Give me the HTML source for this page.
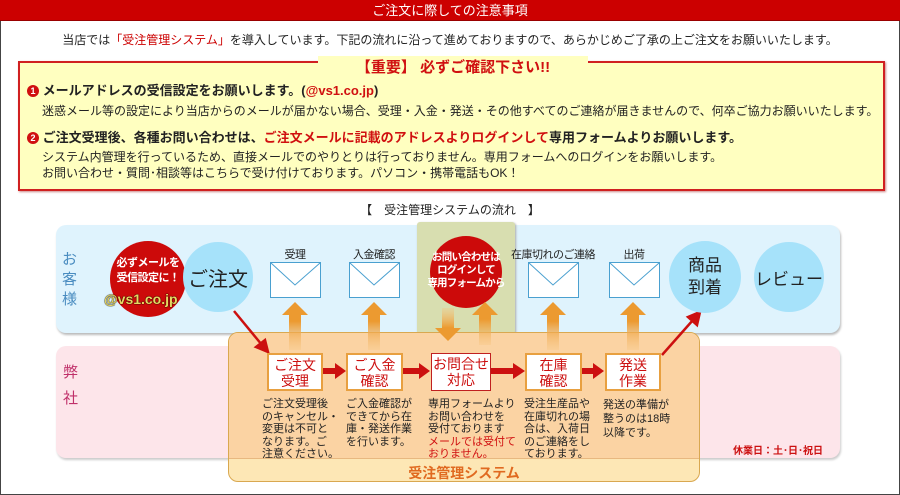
<!DOCTYPE html>
<html><head><meta charset="utf-8"><style>
*{margin:0;padding:0;box-sizing:border-box}
body{width:900px;height:495px;overflow:hidden;background:#fff;font-family:"Liberation Sans","Noto Sans CJK JP",sans-serif;position:relative;color:#222}
.a{position:absolute}
.frame{left:0;top:0;width:900px;height:495px;border:1px solid #444}
.title{left:0;top:0;width:900px;height:21px;background:#cc0000;color:#fff;font-size:13px;text-align:center;line-height:21px;border-bottom:1px solid #900}
.c{text-align:center}
.lbl{font-size:11px;width:90px;text-align:center;white-space:nowrap;letter-spacing:-0.5px}
.circ{border-radius:50%;display:flex;align-items:center;justify-content:center;text-align:center;white-space:nowrap}
.pb{height:38px;background:#fff;border:2px solid #e8a040;color:#cc1010;font-size:14px;line-height:16px;text-align:center;padding-top:2px}
.desc{font-size:11px;line-height:12.6px;color:#222;white-space:nowrap}
</style></head><body>
<div class="a frame"></div>
<div class="a title">ご注文に際しての注意事項</div>
<div class="a c" style="left:0;top:31px;width:900px;font-size:12px">当店では<span style="color:#c00">「受注管理システム」</span>を導入しています。下記の流れに沿って進めておりますので、あらかじめご了承の上ご注文をお願いいたします。</div>

<div class="a" style="left:18px;top:61px;width:867px;height:130px;background:#ffffc0;border:2px solid #d02020;box-shadow:1px 1px 2px #c88"></div>
<div class="a c" style="left:318px;top:56px;width:270px;background:#ffffc0;color:#d01010;font-size:15px;font-weight:bold">【重要】 必ずご確認下さい!!</div>
<div class="a" style="left:27px;top:80px;font-size:13px;font-weight:bold"><span style="display:inline-block;width:12px;height:12px;border-radius:50%;background:#d01010;color:#fff;font-size:9px;text-align:center;line-height:12px;vertical-align:1px">1</span> メールアドレスの受信設定をお願いします。(<span style="color:#d01010">@vs1.co.jp</span>)</div>
<div class="a" style="left:42px;top:102px;font-size:12px">迷惑メール等の設定により当店からのメールが届かない場合、受理・入金・発送・その他すべてのご連絡が届きませんので、何卒ご協力お願いいたします。</div>
<div class="a" style="left:27px;top:127px;font-size:13px;font-weight:bold"><span style="display:inline-block;width:12px;height:12px;border-radius:50%;background:#d01010;color:#fff;font-size:9px;text-align:center;line-height:12px;vertical-align:1px">2</span> ご注文受理後、各種お問い合わせは、<span style="color:#d01010">ご注文メールに記載のアドレスよりログインして</span>専用フォームよりお願いします。</div>
<div class="a" style="left:42px;top:149px;font-size:12px;line-height:16px">システム内管理を行っているため、直接メールでのやりとりは行っておりません。専用フォームへのログインをお願いします。<br>お問い合わせ・質問･相談等はこちらで受け付けております。パソコン・携帯電話もOK！</div>

<div class="a c" style="left:0;top:201px;width:900px;font-size:12px">【　受注管理システムの流れ　】</div>

<div class="a" style="left:56px;top:225px;width:784px;height:108px;background:#dff3fd;border-radius:10px;box-shadow:1px 2px 2px #bbb"></div>
<div class="a" style="left:56px;top:346px;width:784px;height:112px;background:#fde5ea;border-radius:10px;box-shadow:1px 2px 2px #ccc"></div>
<div class="a" style="left:62px;top:250px;width:18px;font-size:15px;line-height:20px;color:#4a8cc0">お客様</div>
<div class="a" style="left:63px;top:360px;width:18px;font-size:15px;line-height:26px;color:#c0306a">弊社</div>
<div class="a" style="left:417px;top:222px;width:98px;height:112px;background:#d8deb0;border-radius:3px;box-shadow:1px 1px 2px #aaa"></div>

<div class="a" style="left:228px;top:332px;width:472px;height:150px;background:#fde7b5;border:1px solid #d9a850;border-radius:10px"></div>
<div class="a" style="left:229px;top:333px;width:470px;height:126px;background:#fbd3a3;border-radius:9px 9px 0 0;border-bottom:1px solid #e8b880"></div>
<div class="a c" style="left:228px;top:463px;width:472px;font-size:14px;font-weight:bold;color:#e06a20">受注管理システム</div>

<div class="a circ" style="left:110px;top:241px;width:76px;height:76px;background:#cc0a0a;color:#fff;font-size:11px;font-weight:bold;line-height:15px;padding-bottom:16px;letter-spacing:-0.5px">必ずメールを<br>受信設定に！</div>
<div class="a" style="left:104px;top:291px;font-size:14px;color:#e8d860;font-weight:bold;text-shadow:0 0 1px #000,0 0 1px #000">@vs1.co.jp</div>
<div class="a circ" style="left:183px;top:242px;width:70px;height:70px;background:#a6e2fa;font-size:20px">ご注文</div>

<div class="a lbl" style="left:250px;top:246px">受理</div>
<div class="a lbl" style="left:329px;top:246px">入金確認</div>
<div class="a lbl" style="left:508px;top:246px">在庫切れのご連絡</div>
<div class="a lbl" style="left:589px;top:246px">出荷</div>
<svg class="a" style="left:0;top:0" width="900" height="495">
<defs><linearGradient id="gu" x1="0" y1="1" x2="0" y2="0"><stop offset="0" stop-color="#f6c27a" stop-opacity=".3"/><stop offset=".6" stop-color="#ec9a30"/></linearGradient></defs>
<g fill="#fff" stroke="#4aa0d0" stroke-width="1">
<rect x="270.5" y="262.5" width="50" height="35"/><rect x="349.5" y="262.5" width="50" height="35"/><rect x="528.5" y="262.5" width="50" height="35"/><rect x="609.5" y="262.5" width="50" height="35"/></g>
<g fill="none" stroke="#4aa0d0"><polyline points="271,263 295,285 320,263"/><polyline points="350,263 374,285 399,263"/><polyline points="529,263 553,285 578,263"/><polyline points="610,263 634,285 659,263"/></g>
<g fill="url(#gu)">
<polygon points="289,350 301,350 301,315 308,315 295,302 282,315 289,315"/>
<polygon points="368,350 380,350 380,315 387,315 374,302 361,315 368,315"/>
<polygon points="547,350 559,350 559,315 566,315 553,302 540,315 547,315"/>
<polygon points="627,350 639,350 639,315 646,315 633,302 620,315 627,315"/>
</g>
</svg>
<div class="a circ" style="left:430px;top:236px;width:72px;height:72px;background:#cc0a0a;color:#fff;font-size:10.5px;font-weight:bold;line-height:13px;padding-bottom:4px;letter-spacing:-0.8px">お問い合わせは<br>ログインして<br>専用フォームから</div>
<svg class="a" style="left:0;top:0" width="900" height="495">
<defs><linearGradient id="gu2" x1="0" y1="1" x2="0" y2="0"><stop offset="0" stop-color="#f6c27a" stop-opacity=".3"/><stop offset=".6" stop-color="#ec9a30"/></linearGradient>
<linearGradient id="gd2" x1="0" y1="0" x2="0" y2="1"><stop offset="0" stop-color="#f6c27a" stop-opacity=".3"/><stop offset=".6" stop-color="#ec9a30"/></linearGradient></defs>
<polygon fill="url(#gu2)" points="479,345 491,345 491,315 498,315 485,302 472,315 479,315"/>
<polygon fill="url(#gd2)" points="442,308 454,308 454,328 461,328 448,341 435,328 442,328"/>
<g stroke="#cc1010" stroke-width="2.5" fill="#cc1010">
<line x1="234" y1="311" x2="262" y2="345"/><polygon points="268,352 256,347 265,340"/>
<line x1="662" y1="355" x2="693" y2="320"/><polygon points="700,312 697,325 688,317"/>
</g>
<g fill="#cc1010">
<rect x="323" y="368" width="14" height="6"/><polygon points="335,363 346,371 335,379"/>
<rect x="403" y="368" width="18" height="6"/><polygon points="419,363 430,371 419,379"/>
<rect x="491" y="368" width="24" height="6"/><polygon points="513,363 525,371 513,379"/>
<rect x="582" y="368" width="13" height="6"/><polygon points="593,363 604,371 593,379"/>
</g>
</svg>
<div class="a circ" style="left:669px;top:241px;width:72px;height:72px;background:#a6e2fa;font-size:17px;line-height:22px">商品<br>到着</div>
<div class="a circ" style="left:754px;top:242px;width:70px;height:70px;background:#a6e2fa;font-size:17px">レビュー</div>

<div class="a pb" style="left:267px;top:353px;width:56px">ご注文<br>受理</div>
<div class="a pb" style="left:346px;top:353px;width:57px">ご入金<br>確認</div>
<div class="a pb" style="left:431px;top:353px;width:60px;border-color:#c02020;border-width:1px">お問合せ<br>対応</div>
<div class="a pb" style="left:525px;top:353px;width:57px">在庫<br>確認</div>
<div class="a pb" style="left:605px;top:353px;width:56px">発送<br>作業</div>

<div class="a desc" style="left:262px;top:398px">ご注文受理後<br>のキャンセル・<br>変更は不可と<br>なります。ご<br>注意ください。</div>
<div class="a desc" style="left:346px;top:398px">ご入金確認が<br>できてから在<br>庫・発送作業<br>を行います。</div>
<div class="a desc" style="left:428px;top:398px">専用フォームより<br>お問い合わせを<br>受付ております<br><span style="color:#d01010">メールでは受付て<br>おりません。</span></div>
<div class="a desc" style="left:524px;top:398px">受注生産品や<br>在庫切れの場<br>合は、入荷日<br>のご連絡をし<br>ております。</div>
<div class="a desc" style="left:603px;top:398px;line-height:14px">発送の準備が<br>整うのは18時<br>以降です。</div>
<div class="a" style="left:733px;top:442px;font-size:10px;font-weight:bold;color:#cc1010">休業日：土･日･祝日</div>
</body></html>
